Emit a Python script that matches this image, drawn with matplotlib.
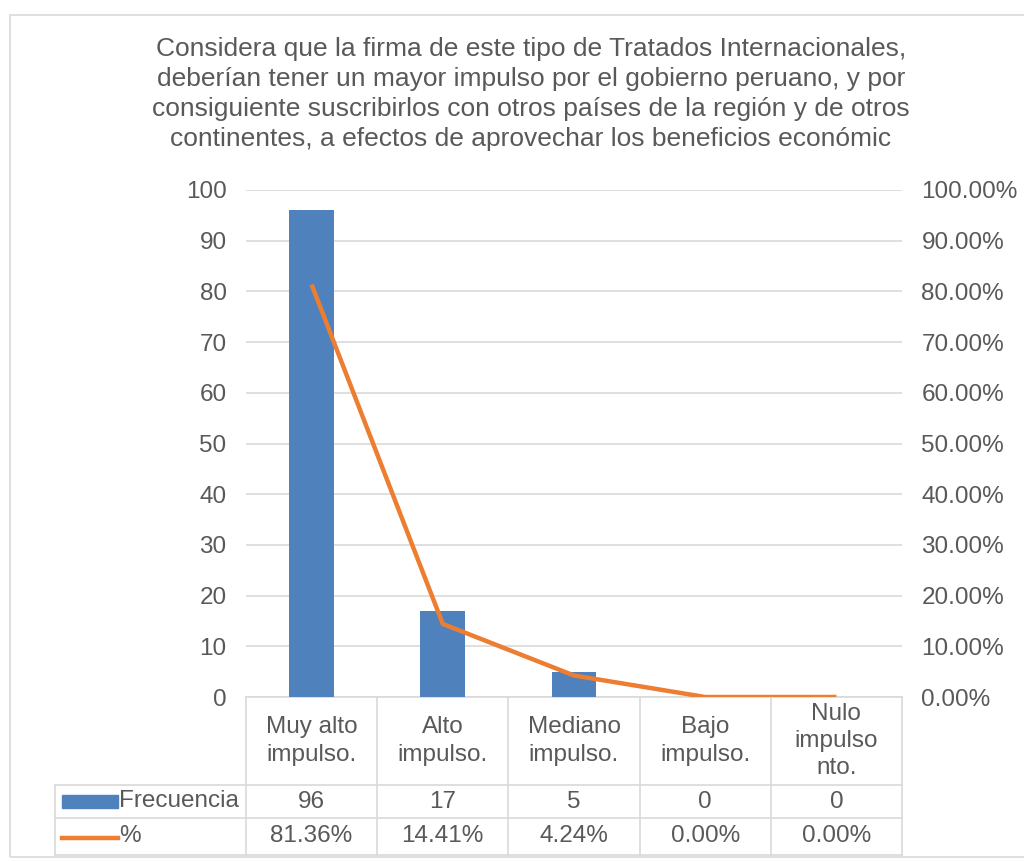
import numpy as np
import matplotlib
matplotlib.use("Agg")
import matplotlib.pyplot as plt
from matplotlib.lines import Line2D
from matplotlib.patches import Rectangle

plt.rcParams['font.family'] = ['Liberation Sans', 'DejaVu Sans']

# Data
categorias = ["Muy alto\nimpulso.", "Alto\nimpulso.", "Mediano\nimpulso.", "Bajo\nimpulso.", "Nulo\nimpulso\nnto."]
frecuencia = [96, 17, 5, 0, 0]
porcentaje = [0.8136, 0.1441, 0.0424, 0.0, 0.0]
titulo = ("Considera que la firma de este tipo de Tratados Internacionales,\n"
          "deberían tener un mayor impulso por el gobierno peruano, y por\n"
          "consiguiente suscribirlos con otros países de la región y de otros\n"
          "continentes, a efectos de aprovechar los beneficios económic")

BLUE = "#4F81BD"
ORANGE = "#ED7D31"
GRID = "#D9D9D9"
TXT = "#595959"
FS = 17.5

W, H = 1024, 861
fig = plt.figure(figsize=(W / 100, H / 100), dpi=100)

# outer chart border
fig.patches.append(Rectangle((10 / W, 4 / H), 1.2, 1 - 19 / H, transform=fig.transFigure,
                             fill=False, edgecolor=GRID, lw=1.2))

ax = fig.add_axes([246 / W, 1 - 697 / H, 656 / W, 507 / H])
x = np.arange(len(categorias))
ax.bar(x, frecuencia, width=0.34, color=BLUE, zorder=3)
ax.set_xlim(-0.5, len(categorias) - 0.5)
ax.set_ylim(0, 100)
ax.set_yticks(np.arange(0, 101, 10))
ax.yaxis.grid(True, color=GRID, lw=1.2, zorder=0)
ax.set_xticks([])
for s in ax.spines.values():
    s.set_visible(False)
ax.tick_params(axis='y', length=0, labelsize=FS, labelcolor=TXT, pad=14)

ax2 = ax.twinx()
ax2.plot(x, porcentaje, color=ORANGE, lw=3.2, zorder=4, solid_capstyle='butt')
ax2.set_ylim(0, 1)
ax2.set_yticks(np.arange(0, 1.01, 0.1))
ax2.set_yticklabels([f"{v * 100:.2f}%" for v in np.arange(0, 1.01, 0.1)])
for s in ax2.spines.values():
    s.set_visible(False)
ax2.tick_params(axis='y', length=0, labelsize=FS, labelcolor=TXT, pad=14)

fig.text(531 / W, 1 - 94 / H, titulo, ha='center', va='center', fontsize=19,
         color=TXT, linespacing=1.3)

# Data table below the axes
bt = ax.get_xaxis_transform()
r0, r1, r2, r3 = 0.0, -(785 - 697) / 507, -(818 - 697) / 507, -(855 - 697) / 507
left_lbl = (55 - 246) / 656
kw = dict(color=GRID, lw=1.2, clip_on=False)
ax.add_line(Line2D([-0.5, len(categorias) - 0.5], [r0, r0], transform=bt, **kw))
for r in (r1, r2, r3):
    ax.add_line(Line2D([left_lbl, 1], [r, r], transform=ax.transAxes, **kw))
ax.add_line(Line2D([left_lbl, left_lbl], [r1, r3], transform=ax.transAxes, **kw))
for i in range(len(categorias) + 1):
    ax.add_line(Line2D([i - 0.5, i - 0.5], [r0, r3], transform=bt, **kw))

for i, c in enumerate(categorias):
    ax.text(i, (r0 + r1) / 2, c, transform=bt, ha='center', va='center', fontsize=FS,
            color=TXT, linespacing=1.3)
    ax.text(i, (r1 + r2) / 2, f"{frecuencia[i]}", transform=bt, ha='center', va='center',
            fontsize=FS, color=TXT)
    ax.text(i, (r2 + r3) / 2, f"{porcentaje[i] * 100:.2f}%", transform=bt, ha='center',
            va='center', fontsize=FS, color=TXT)

# legend keys inside the table
fig.patches.append(Rectangle((62 / W, 1 - 808 / H), 56 / W, 13 / H, transform=fig.transFigure,
                             color=BLUE))
fig.text(119 / W, 1 - 801 / H, "Frecuencia", ha='left', va='center', fontsize=FS, color=TXT)
fig.lines.append(Line2D([62 / W, 118 / W], [1 - 838 / H, 1 - 838 / H], transform=fig.transFigure,
                        color=ORANGE, lw=3.2))
fig.text(119 / W, 1 - 836 / H, "%", ha='left', va='center', fontsize=FS, color=TXT)

fig.savefig("out.png", dpi=100)
